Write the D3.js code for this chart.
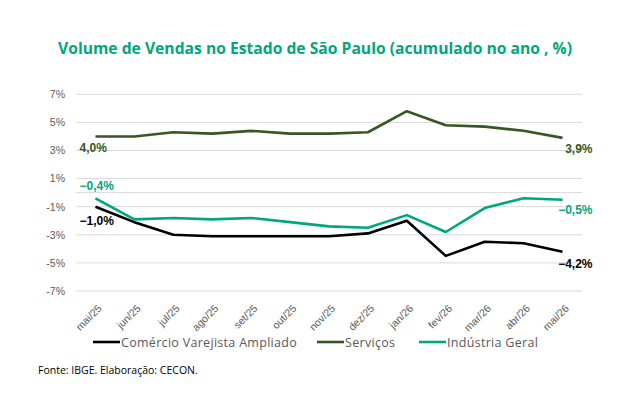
<!DOCTYPE html>
<html>
<head>
<meta charset="utf-8">
<script src="https://cdn.jsdelivr.net/npm/d3@7"></script>
<style>
  body { margin: 0; background: #fff; }
  svg { display: block; font-family: "Open Sans", sans-serif; }
  .grid line { stroke: #d9d9d9; stroke-width: 1; }
  .y.axis text, .x.axis text { fill: #595959; }
</style>
</head>
<body>
<div id="chart-area"><svg></svg></div>
<script>
const months = ["mai/25", "jun/25", "jul/25", "ago/25", "set/25", "out/25", "nov/25",
  "dez/25", "jan/26", "fev/26", "mar/26", "abr/26", "mai/26"];
const comercio = [-1.0, -2.1, -3.0, -3.1, -3.1, -3.1, -3.1, -2.9, -2.0, -4.5, -3.5, -3.6, -4.2];
const servicos = [4.0, 4.0, 4.3, 4.2, 4.4, 4.2, 4.2, 4.3, 5.8, 4.8, 4.7, 4.4, 3.9];
const industria = [-0.4, -1.9, -1.8, -1.9, -1.8, -2.1, -2.4, -2.5, -1.6, -2.8, -1.1, -0.4, -0.5];
const yTicks = [-7, -5, -3, -1, 1, 3, 5, 7];
const gridValues = [-7, -5, -3, -1, 0, 1, 3, 5, 7];

const chartSize = { width: 638, height: 407 };
const plot = { left: 76, right: 582, top: 94.3, bottom: 291 };

const series = [
  { name: "Comércio Varejista Ampliado", values: comercio, color: "#000000" },
  { name: "Serviços", values: servicos, color: "#375623" },
  { name: "Indústria Geral", values: industria, color: "#00a67e" }
];

const fmt = v => (v < 0 ? "\u2212" : "") + Math.abs(v).toFixed(1).replace(".", ",") + "%";

const svg = d3.select("#chart-area svg")
  .attr("width", chartSize.width)
  .attr("height", chartSize.height);

svg.append("text")
  .attr("x", 58)
  .attr("y", 53.5)
  .attr("fill", "#00a67e")
  .attr("font-family", "'Open Sans', sans-serif")
  .attr("font-weight", 700)
  .attr("font-size", 16.5)
  .attr("textLength", 514)
  .attr("lengthAdjust", "spacingAndGlyphs")
  .text("Volume de Vendas no Estado de São Paulo (acumulado no ano , %)");

const x = d3.scalePoint().domain(months).range([plot.left, plot.right]).padding(0.5);
const y = d3.scaleLinear().domain([-7, 7]).range([plot.bottom, plot.top]);

svg.append("g")
  .attr("class", "grid")
  .selectAll("line")
  .data(gridValues)
  .enter()
  .append("line")
  .attr("x1", plot.left)
  .attr("x2", plot.right)
  .attr("y1", d => y(d))
  .attr("y2", d => y(d));

const yAxis = d3.axisLeft(y).tickValues(yTicks).tickSize(0).tickPadding(11)
  .tickFormat(d => d + "%");
svg.append("g")
  .attr("class", "y axis")
  .attr("transform", `translate(${plot.left},0)`)
  .call(yAxis)
  .call(g => g.select(".domain").remove())
  .selectAll("text")
  .attr("font-size", 10.5)
  .attr("font-family", "'Liberation Sans', Arial, sans-serif");

const xAxis = d3.axisBottom(x).tickSize(0).tickPadding(0);
svg.append("g")
  .attr("class", "x axis")
  .attr("transform", `translate(0,${plot.bottom})`)
  .call(xAxis)
  .call(g => g.select(".domain").remove())
  .selectAll("text")
  .attr("font-size", 10.5)
  .attr("text-anchor", "end")
  .attr("dy", 0)
  .attr("transform", "translate(6.5,18) rotate(-45)");

const line = d3.line()
  .x((d, i) => x(months[i]))
  .y(d => y(d));

svg.selectAll("path.series")
  .data(series)
  .enter()
  .append("path")
  .attr("class", "series")
  .attr("fill", "none")
  .attr("stroke", d => d.color)
  .attr("stroke-width", 2.6)
  .attr("stroke-linejoin", "round")
  .attr("d", d => line(d.values));

// end labels
const labelOffsets = [
  { first: 18, last: 16 },
  { first: 16, last: 15 },
  { first: -8, last: 14 }
];
const labels = svg.append("g")
  .attr("font-family", "'Liberation Sans', Arial, sans-serif")
  .attr("font-weight", 700)
  .attr("font-size", 12);

series.forEach((s, k) => {
  labels.append("text")
    .attr("x", x(months[0]) - 16)
    .attr("y", y(s.values[0]) + labelOffsets[k].first)
    .attr("fill", s.color)
    .text(fmt(s.values[0]));
  labels.append("text")
    .attr("x", x(months[months.length - 1]) + 30)
    .attr("y", y(s.values[s.values.length - 1]) + labelOffsets[k].last)
    .attr("text-anchor", "end")
    .attr("fill", s.color)
    .text(fmt(s.values[s.values.length - 1]));
});

// legend
const legendX = [93, 317, 419];
const legend = svg.append("g").attr("class", "legend");
series.forEach((s, k) => {
  const item = legend.append("g").attr("transform", `translate(${legendX[k]},342)`);
  item.append("line")
    .attr("x1", 0).attr("x2", 27)
    .attr("stroke", s.color)
    .attr("stroke-width", 2.6);
  item.append("text")
    .attr("x", 28)
    .attr("y", 4.5)
    .attr("font-size", 12.5)
    .attr("letter-spacing", 0.3)
    .attr("fill", "#595959")
    .text(s.name);
});

svg.append("text")
  .attr("x", 38)
  .attr("y", 374)
  .attr("font-size", 10.5)
  .attr("fill", "#000")
  .text("Fonte: IBGE. Elaboração: CECON.");
</script>
</body>
</html>
